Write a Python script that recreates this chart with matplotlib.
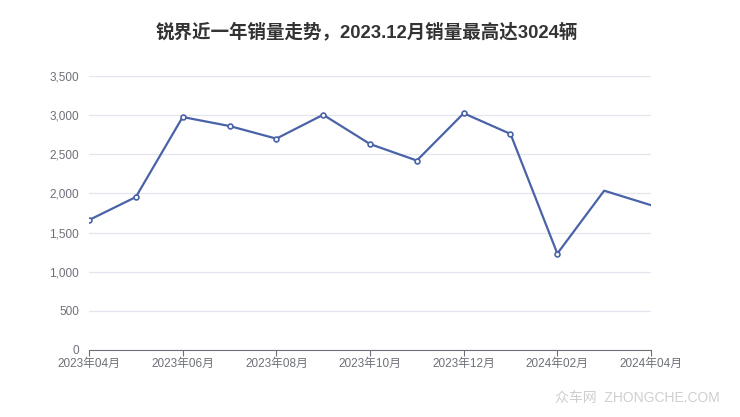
import matplotlib
matplotlib.use("Agg")
import matplotlib.pyplot as plt
from matplotlib.ticker import FuncFormatter

plt.rcParams["font.family"] = ["Liberation Sans", "Noto Sans CJK SC", "DejaVu Sans"]

months = [
    "2023年04月", "2023年05月", "2023年06月", "2023年07月", "2023年08月",
    "2023年09月", "2023年10月", "2023年11月", "2023年12月", "2024年01月",
    "2024年02月", "2024年03月", "2024年04月",
]
sales = [1660, 1954, 2976, 2861, 2700, 3005, 2631, 2420, 3024, 2760, 1232, 2035, 1850]
y_ticks = [0, 500, 1000, 1500, 2000, 2500, 3000, 3500]
title = "锐界近一年销量走势，2023.12月销量最高达3024辆"

line_color = "#4a62a8"
grid_color = "#e3e6ee"
label_color = "#6e7079"

fig = plt.figure(figsize=(7.4, 4.17), dpi=100)
ax = fig.add_axes([89 / 740, 1 - 350 / 417, (651 - 89) / 740, (350 - 76) / 417])

x = list(range(len(months)))
ax.plot(x, sales, color=line_color, linewidth=1.6, marker="o", markersize=3.5,
        markerfacecolor="white", markeredgecolor=line_color, markeredgewidth=1.2,
        markevery=list(range(11)), zorder=3)

ax.set_xlim(0, len(months) - 1)
ax.set_ylim(0, 3500)
ax.set_yticks(y_ticks)
ax.yaxis.set_major_formatter(FuncFormatter(lambda v, p: f"{int(v):,}"))
ax.set_xticks(x[::2])
ax.set_xticklabels(months[::2])

ax.grid(axis="y", color=grid_color, linewidth=0.9)
ax.set_axisbelow(True)
for side in ["top", "right", "left"]:
    ax.spines[side].set_visible(False)
ax.spines["bottom"].set_color(label_color)
ax.tick_params(axis="y", length=0, labelsize=8.5, labelcolor=label_color, pad=7)
ax.tick_params(axis="x", length=4, color=label_color,
               labelsize=8.5, labelcolor=label_color, pad=2)

fig.text(367 / 740, 1 - 32 / 417, title, ha="center", va="center",
         fontsize=13.3, fontweight="bold", color="#333333")
fig.text(720 / 740, 1 - 398 / 417, "众车网  ZHONGCHE.COM", ha="right", va="center",
         fontsize=10, color="#cfcfcf")

fig.savefig("out.png", dpi=100)
